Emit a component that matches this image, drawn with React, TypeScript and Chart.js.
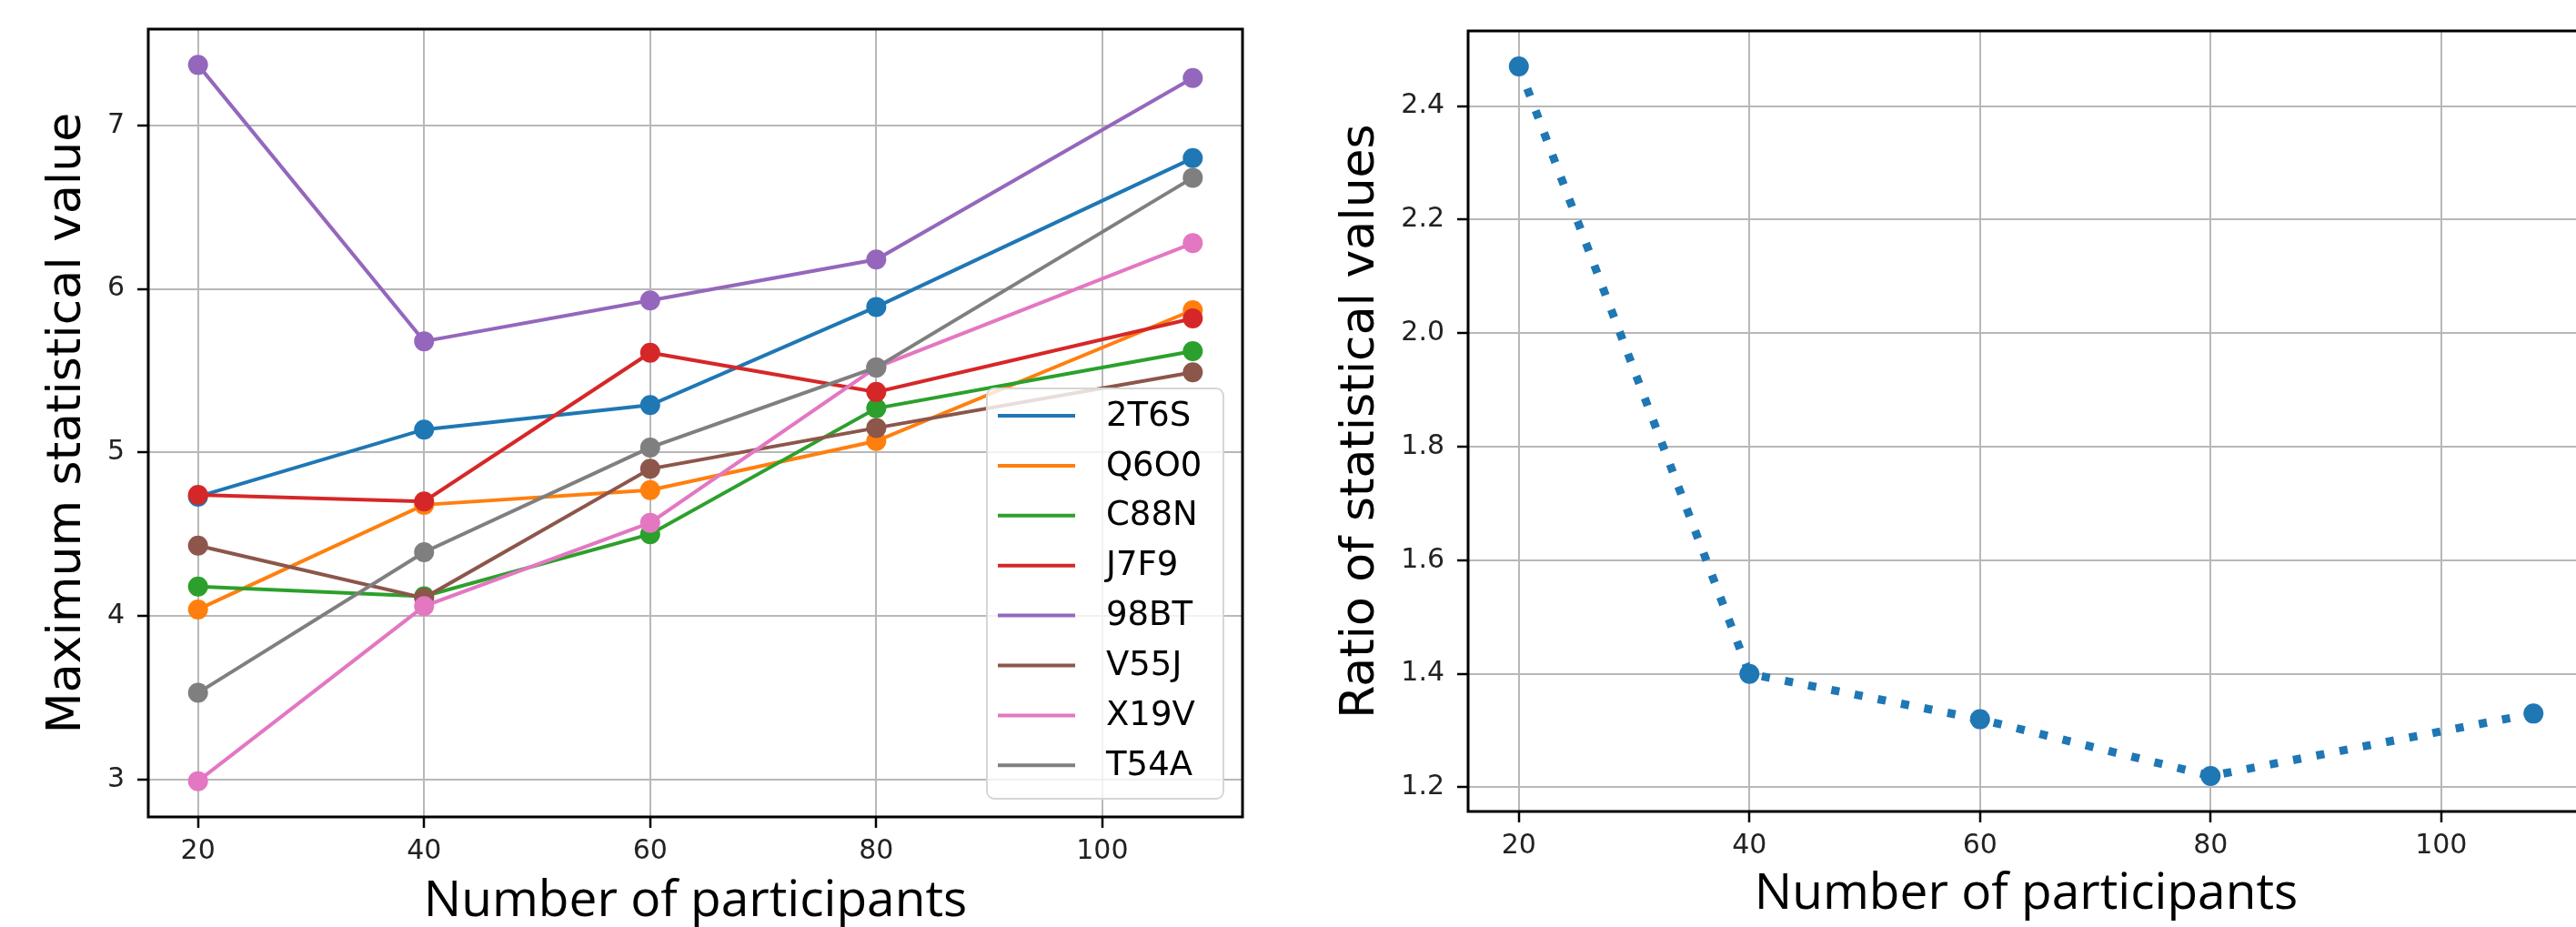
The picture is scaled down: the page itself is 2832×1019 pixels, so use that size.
import React, { useEffect, useRef } from 'react';
import { Chart, registerables } from 'chart.js';

Chart.register(...registerables);

// ---------- data ----------
const participants = [20, 40, 60, 80, 108];
const seriesNames = ['2T6S', 'Q6O0', 'C88N', 'J7F9', '98BT', 'V55J', 'X19V', 'T54A'];
const s2T6S = [4.73, 5.14, 5.29, 5.89, 6.80];
const sQ6O0 = [4.04, 4.68, 4.77, 5.07, 5.87];
const sC88N = [4.18, 4.12, 4.50, 5.27, 5.62];
const sJ7F9 = [4.74, 4.70, 5.61, 5.37, 5.82];
const s98BT = [7.37, 5.68, 5.93, 6.18, 7.29];
const sV55J = [4.43, 4.11, 4.90, 5.15, 5.49];
const sX19V = [2.99, 4.06, 4.57, 5.52, 6.28];
const sT54A = [3.53, 4.39, 5.03, 5.52, 6.68];
const seriesValues = [s2T6S, sQ6O0, sC88N, sJ7F9, s98BT, sV55J, sX19V, sT54A];
const ratioValues = [2.47, 1.40, 1.32, 1.22, 1.33];

const xTicks = [20, 40, 60, 80, 100];
const leftYTicks = [3, 4, 5, 6, 7];
const rightYTicks = [1.2, 1.4, 1.6, 1.8, 2.0, 2.2, 2.4];

const xTitle = 'Number of participants';
const leftYTitle = 'Maximum statistical value';
const rightYTitle = 'Ratio of statistical values';

// ---------- style ----------
const palette = ['#1f77b4', '#ff7f0e', '#2ca02c', '#d62728', '#9467bd', '#8c564b', '#e377c2', '#7f7f7f'];
const GRID = '#b8b8b8';
const TICK_FONT = { family: 'DejaVu Sans', size: 30 };
const YTITLE_FONT = { family: 'DejaVu Sans', size: 52, lineHeight: 1 };
const XTITLE_FONT = { family: 'Open Sans', size: 55, lineHeight: 1 };

function margin(vals: number[], lo: boolean) {
  const mn = Math.min(...vals);
  const mx = Math.max(...vals);
  const r = mx - mn;
  return lo ? mn - 0.05 * r : mx + 0.05 * r;
}

const framePlugin = {
  id: 'mplFrame',
  afterDatasetsDraw(chart: any) {
    const { ctx, chartArea: a } = chart;
    ctx.save();
    ctx.strokeStyle = '#000';
    ctx.lineWidth = 3;
    ctx.strokeRect(a.left, a.top, a.right - a.left, a.bottom - a.top);
    ctx.restore();
  },
};

const legendPlugin = {
  id: 'mplLegend',
  afterDatasetsDraw(chart: any) {
    const { ctx, chartArea: a } = chart;
    const w = 260;
    const h = 451;
    const x0 = a.right - 21 - w;
    const y0 = a.bottom - 20 - h;
    ctx.save();
    ctx.beginPath();
    ctx.roundRect(x0, y0, w, h, 8);
    ctx.fillStyle = 'rgba(255,255,255,0.8)';
    ctx.fill();
    ctx.strokeStyle = '#d6d6d6';
    ctx.lineWidth = 2;
    ctx.stroke();
    ctx.font = '37px "DejaVu Sans"';
    ctx.textBaseline = 'middle';
    ctx.textAlign = 'left';
    chart.data.datasets.forEach((ds: any, i: number) => {
      const y = y0 + 30 + i * 54.9;
      ctx.strokeStyle = ds.borderColor;
      ctx.lineWidth = 4;
      ctx.beginPath();
      ctx.moveTo(x0 + 12, y);
      ctx.lineTo(x0 + 97, y);
      ctx.stroke();
      ctx.fillStyle = '#000';
      ctx.fillText(ds.label, x0 + 131, y + 1);
    });
    ctx.restore();
  },
};

function xScale(ticksArr: number[], height: number, titlePadBottom: number) {
  return {
    type: 'linear',
    min: margin(participants, true),
    max: margin(participants, false),
    afterBuildTicks: (axis: any) => {
      axis.ticks = ticksArr.map((v) => ({ value: v }));
    },
    afterFit: (axis: any) => {
      axis.height = height;
    },
    grid: {
      color: GRID,
      lineWidth: 2,
      drawTicks: true,
      tickLength: 12,
      tickColor: '#000',
      tickWidth: 2.5,
    },
    border: { display: false },
    ticks: {
      font: TICK_FONT,
      color: '#222',
      padding: 8,
      maxRotation: 0,
      callback: (v: any) => String(v),
    },
    title: {
      display: true,
      text: xTitle,
      font: XTITLE_FONT,
      color: '#000',
      padding: { top: 0, bottom: titlePadBottom },
    },
  };
}

function yScale(vals: number[], ticksArr: number[], width: number, title: string, titlePadTop: number, decimals: number) {
  return {
    type: 'linear',
    min: margin(vals, true),
    max: margin(vals, false),
    afterBuildTicks: (axis: any) => {
      axis.ticks = ticksArr.map((v) => ({ value: v }));
    },
    afterFit: (axis: any) => {
      axis.width = width;
    },
    grid: {
      color: GRID,
      lineWidth: 2,
      drawTicks: true,
      tickLength: 12,
      tickColor: '#000',
      tickWidth: 2.5,
    },
    border: { display: false },
    ticks: {
      font: TICK_FONT,
      color: '#222',
      padding: 14,
      callback: (v: any) => Number(v).toFixed(decimals),
    },
    title: {
      display: true,
      text: title,
      font: YTITLE_FONT,
      color: '#000',
      padding: { top: titlePadTop, bottom: 0 },
    },
  };
}

function LeftChart() {
  const ref = useRef<HTMLCanvasElement | null>(null);
  useEffect(() => {
    if (!ref.current) return;
    const allVals = seriesValues.flat();
    const chart = new Chart(ref.current, {
      type: 'line',
      data: {
        datasets: seriesNames.map((name, i) => ({
          label: name,
          data: participants.map((p, j) => ({ x: p, y: seriesValues[i][j] })),
          borderColor: palette[i],
          backgroundColor: palette[i],
          pointBackgroundColor: palette[i],
          pointBorderWidth: 0,
          pointRadius: 11,
          borderWidth: 4,
          tension: 0,
          fill: false,
          order: seriesNames.length - i,
        })),
      },
      options: {
        responsive: false,
        animation: false,
        events: [],
        layout: { padding: { left: 0, top: 29, right: 34, bottom: 0 } },
        plugins: { legend: { display: false }, tooltip: { enabled: false } },
        scales: {
          x: xScale(xTicks, 121, 0),
          y: yScale(allVals, leftYTicks, 163, leftYTitle, 48, 0),
        },
      } as any,
      plugins: [framePlugin, legendPlugin],
    });
    return () => chart.destroy();
  }, []);
  return (
    <canvas
      ref={ref}
      width={1400}
      height={1019}
      style={{ position: 'absolute', left: 0, top: 0, width: 1400, height: 1019 }}
    />
  );
}

function RightChart() {
  const ref = useRef<HTMLCanvasElement | null>(null);
  useEffect(() => {
    if (!ref.current) return;
    const chart = new Chart(ref.current, {
      type: 'line',
      data: {
        datasets: [
          {
            label: 'Ratio',
            data: participants.map((p, j) => ({ x: p, y: ratioValues[j] })),
            borderColor: '#1f77b4',
            backgroundColor: '#1f77b4',
            pointBackgroundColor: '#1f77b4',
            pointBorderWidth: 0,
            pointRadius: 11,
            borderWidth: 9,
            borderDash: [9, 17],
            borderCapStyle: 'butt',
            tension: 0,
            fill: false,
          },
        ],
      },
      options: {
        responsive: false,
        animation: false,
        events: [],
        layout: { padding: { left: 0, top: 34, right: 59, bottom: 0 } },
        plugins: { legend: { display: false }, tooltip: { enabled: false } },
        scales: {
          x: xScale(xTicks, 127, 8),
          y: yScale(ratioValues, rightYTicks, 214, rightYTitle, 70, 1),
        },
      } as any,
      plugins: [framePlugin],
    });
    return () => chart.destroy();
  }, []);
  return (
    <canvas
      ref={ref}
      width={1500}
      height={1019}
      style={{ position: 'absolute', left: 1400, top: 0, width: 1500, height: 1019 }}
    />
  );
}

export default function App() {
  useEffect(() => {
    document.body.style.margin = '0';
    document.body.style.overflow = 'hidden';
  }, []);
  return (
    <div
      style={{
        position: 'relative',
        width: 2832,
        height: 1019,
        overflow: 'hidden',
        background: '#fff',
      }}
    >
      <LeftChart />
      <RightChart />
    </div>
  );
}
